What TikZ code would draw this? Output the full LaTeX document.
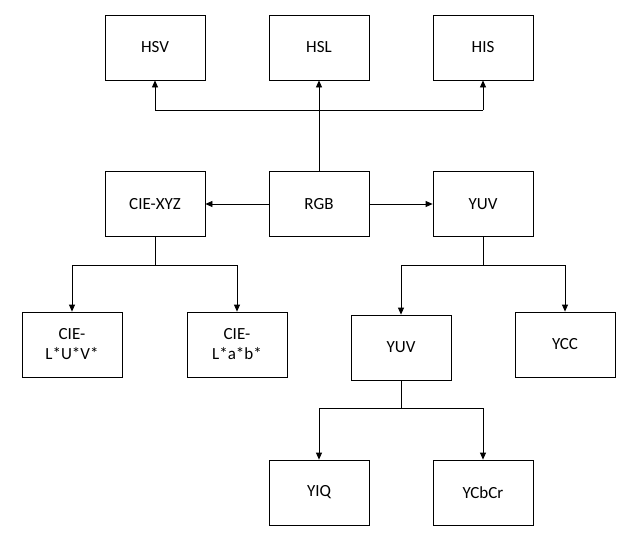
\documentclass[tikz,border=0pt]{standalone}
\usepackage{fontspec}
\setmainfont{Carlito}
\usetikzlibrary{arrows.meta}
\begin{document}
\begin{tikzpicture}[x=1pt,y=-1pt,
  box/.style={draw,line width=0.8pt,minimum width=100pt,minimum height=65pt,align=center,font=\fontsize{17}{20}\selectfont,inner sep=0pt},
  ar/.style={-{Triangle[length=7pt,width=6pt]},line width=0.8pt},
  ln/.style={line width=0.8pt}]
\useasboundingbox (0,0) rectangle (637,538);
\node[box] (hsv) at (155,47.5) {HSV};
\node[box] (hsl) at (319,47.5) {HSL};
\node[box] (his) at (483,47.5) {HIS};
\node[box] (xyz) at (155,204) {CIE-XYZ};
\node[box] (rgb) at (319,204) {RGB};
\node[box] (yuv) at (483,204) {YUV};
\node[box] (luv) at (72,344.5) {CIE-\\L*U*V*};
\node[box] (lab) at (237,344.5) {CIE-\\L*a*b*};
\node[box] (yuv2) at (401,347.5) {YUV};
\node[box] (ycc) at (565,344.5) {YCC};
\node[box] (yiq) at (319,492.5) {YIQ};
\node[box] (ycb) at (483,492.5) {YCbCr};
\coordinate (b1) at (319,110);
\draw[ar] (rgb.north) -- (hsl.south);
\draw[ln] (hsv.south |- b1) -- (his.south |- b1);
\draw[ar] (hsv.south |- b1) -- (hsv.south);
\draw[ar] (his.south |- b1) -- (his.south);
\draw[ar] (rgb.west) -- (xyz.east);
\draw[ar] (rgb.east) -- (yuv.west);
\coordinate (b2) at (155,265);
\draw[ln] (xyz.south) -- (b2);
\draw[ln] (luv.north |- b2) -- (lab.north |- b2);
\draw[ar] (luv.north |- b2) -- (luv.north);
\draw[ar] (lab.north |- b2) -- (lab.north);
\coordinate (b3) at (483,265);
\draw[ln] (yuv.south) -- (b3);
\draw[ln] (yuv2.north |- b3) -- (ycc.north |- b3);
\draw[ar] (yuv2.north |- b3) -- (yuv2.north);
\draw[ar] (ycc.north |- b3) -- (ycc.north);
\coordinate (b4) at (401,408);
\draw[ln] (yuv2.south) -- (b4);
\draw[ln] (yiq.north |- b4) -- (ycb.north |- b4);
\draw[ar] (yiq.north |- b4) -- (yiq.north);
\draw[ar] (ycb.north |- b4) -- (ycb.north);
\end{tikzpicture}
\end{document}
